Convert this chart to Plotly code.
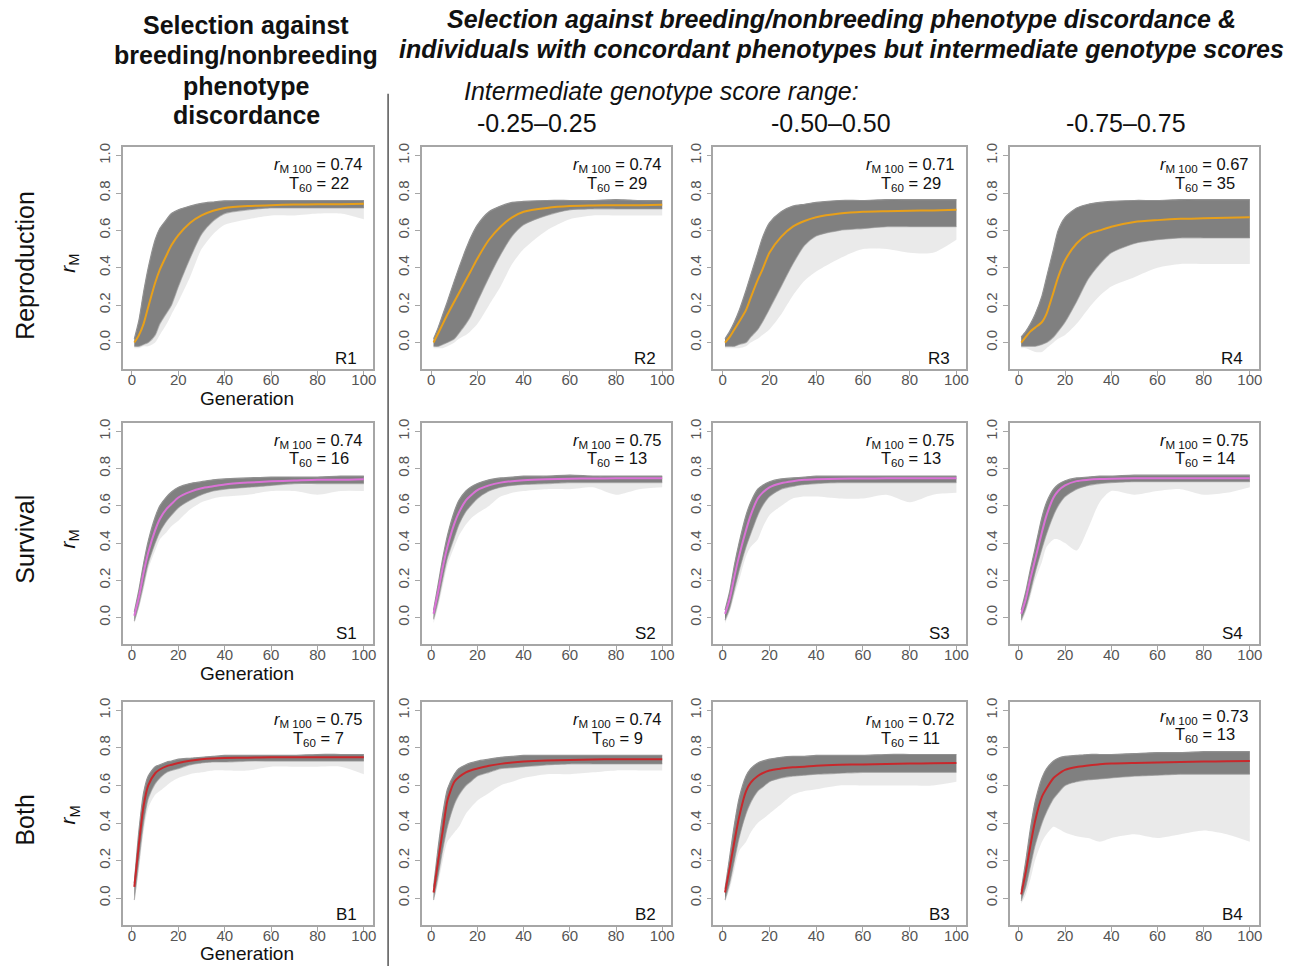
import plotly.graph_objects as go

W, H = 1289, 966

generations = [1, 3, 5, 7, 10, 12, 15, 17, 20, 25, 30, 35, 40, 50, 60, 70, 80, 90, 100]

# ---- Reproduction row ----
R1_mean = [0.0, 0.04, 0.10, 0.19, 0.32, 0.39, 0.47, 0.52, 0.575, 0.64, 0.68, 0.705, 0.72, 0.73, 0.735, 0.738, 0.74, 0.74, 0.742]
R1_hi = [0.02, 0.12, 0.27, 0.40, 0.55, 0.61, 0.66, 0.69, 0.71, 0.73, 0.745, 0.752, 0.758, 0.76, 0.76, 0.76, 0.76, 0.76, 0.76]
R1_lo = [-0.02, -0.02, -0.01, 0.0, 0.04, 0.10, 0.16, 0.20, 0.30, 0.45, 0.58, 0.65, 0.69, 0.71, 0.72, 0.72, 0.72, 0.72, 0.72]
R1_faint = [-0.03, -0.03, -0.02, -0.02, 0.0, 0.04, 0.10, 0.15, 0.22, 0.35, 0.50, 0.58, 0.63, 0.66, 0.68, 0.68, 0.69, 0.69, 0.66]

R2_mean = [0.0, 0.05, 0.10, 0.15, 0.22, 0.265, 0.335, 0.38, 0.45, 0.55, 0.62, 0.67, 0.70, 0.72, 0.73, 0.733, 0.735, 0.735, 0.737]
R2_hi = [0.02, 0.08, 0.15, 0.22, 0.33, 0.40, 0.50, 0.56, 0.63, 0.70, 0.73, 0.75, 0.755, 0.76, 0.76, 0.76, 0.765, 0.76, 0.76]
R2_lo = [-0.02, -0.02, -0.01, 0.0, 0.02, 0.05, 0.10, 0.14, 0.22, 0.35, 0.47, 0.57, 0.63, 0.68, 0.71, 0.715, 0.715, 0.715, 0.715]
R2_faint = [-0.03, -0.03, -0.03, -0.02, 0.0, 0.02, 0.04, 0.06, 0.10, 0.20, 0.30, 0.42, 0.50, 0.60, 0.66, 0.68, 0.68, 0.68, 0.68]

R3_mean = [0.0, 0.03, 0.07, 0.11, 0.175, 0.24, 0.335, 0.39, 0.48, 0.565, 0.62, 0.65, 0.67, 0.69, 0.70, 0.703, 0.705, 0.707, 0.71]
R3_hi = [0.02, 0.06, 0.11, 0.17, 0.28, 0.36, 0.48, 0.56, 0.64, 0.70, 0.73, 0.74, 0.75, 0.76, 0.76, 0.765, 0.765, 0.765, 0.765]
R3_lo = [-0.02, -0.02, -0.02, -0.01, 0.0, 0.03, 0.07, 0.11, 0.18, 0.30, 0.42, 0.52, 0.57, 0.60, 0.61, 0.62, 0.62, 0.62, 0.62]
R3_faint = [-0.03, -0.03, -0.03, -0.03, -0.02, 0.0, 0.02, 0.04, 0.07, 0.15, 0.25, 0.33, 0.38, 0.45, 0.50, 0.50, 0.48, 0.48, 0.55]

R4_mean = [0.0, 0.03, 0.06, 0.08, 0.11, 0.155, 0.27, 0.35, 0.44, 0.53, 0.58, 0.60, 0.62, 0.645, 0.655, 0.662, 0.665, 0.668, 0.67]
R4_hi = [0.03, 0.06, 0.10, 0.15, 0.25, 0.35, 0.50, 0.60, 0.67, 0.72, 0.74, 0.75, 0.755, 0.76, 0.76, 0.765, 0.765, 0.765, 0.765]
R4_lo = [-0.02, -0.02, -0.02, -0.02, -0.01, 0.0, 0.03, 0.06, 0.11, 0.22, 0.34, 0.42, 0.48, 0.53, 0.55, 0.56, 0.56, 0.56, 0.56]
R4_faint = [-0.03, -0.03, -0.04, -0.05, -0.05, -0.03, 0.0, 0.02, 0.04, 0.10, 0.18, 0.25, 0.30, 0.35, 0.40, 0.42, 0.42, 0.42, 0.42]

# ---- Survival row ----
S1_mean = [0.01, 0.11, 0.24, 0.35, 0.47, 0.53, 0.585, 0.61, 0.645, 0.675, 0.695, 0.705, 0.715, 0.725, 0.732, 0.736, 0.74, 0.74, 0.743]
S1_hi = [0.03, 0.15, 0.29, 0.41, 0.54, 0.60, 0.65, 0.675, 0.70, 0.72, 0.73, 0.74, 0.745, 0.75, 0.755, 0.755, 0.755, 0.76, 0.76]
S1_lo = [-0.02, 0.07, 0.18, 0.29, 0.40, 0.46, 0.52, 0.55, 0.59, 0.63, 0.66, 0.68, 0.69, 0.70, 0.71, 0.72, 0.72, 0.72, 0.72]
S1_faint = [-0.03, 0.05, 0.15, 0.26, 0.36, 0.42, 0.46, 0.49, 0.52, 0.58, 0.62, 0.64, 0.65, 0.66, 0.68, 0.68, 0.66, 0.68, 0.68]

S2_mean = [0.02, 0.14, 0.27, 0.38, 0.505, 0.565, 0.63, 0.655, 0.685, 0.71, 0.725, 0.733, 0.738, 0.743, 0.746, 0.747, 0.748, 0.748, 0.748]
S2_hi = [0.04, 0.18, 0.32, 0.44, 0.57, 0.63, 0.68, 0.70, 0.72, 0.74, 0.75, 0.755, 0.76, 0.76, 0.765, 0.76, 0.76, 0.76, 0.76]
S2_lo = [-0.01, 0.09, 0.21, 0.32, 0.43, 0.50, 0.57, 0.60, 0.64, 0.68, 0.70, 0.71, 0.715, 0.72, 0.725, 0.725, 0.725, 0.725, 0.725]
S2_faint = [-0.03, 0.06, 0.17, 0.28, 0.38, 0.44, 0.50, 0.53, 0.56, 0.60, 0.65, 0.67, 0.68, 0.69, 0.69, 0.70, 0.66, 0.69, 0.70]

S3_mean = [0.02, 0.10, 0.22, 0.33, 0.47, 0.55, 0.64, 0.67, 0.70, 0.722, 0.733, 0.74, 0.743, 0.746, 0.747, 0.748, 0.748, 0.748, 0.748]
S3_hi = [0.04, 0.14, 0.28, 0.40, 0.55, 0.62, 0.69, 0.71, 0.73, 0.745, 0.75, 0.755, 0.76, 0.76, 0.76, 0.76, 0.76, 0.76, 0.76]
S3_lo = [-0.015, 0.05, 0.15, 0.25, 0.38, 0.45, 0.55, 0.60, 0.65, 0.69, 0.705, 0.715, 0.72, 0.725, 0.725, 0.725, 0.725, 0.725, 0.725]
S3_faint = [-0.03, 0.03, 0.12, 0.20, 0.33, 0.38, 0.42, 0.48, 0.55, 0.60, 0.64, 0.65, 0.65, 0.64, 0.64, 0.66, 0.62, 0.66, 0.67]

S4_mean = [0.02, 0.10, 0.21, 0.31, 0.46, 0.55, 0.645, 0.68, 0.71, 0.733, 0.74, 0.744, 0.746, 0.748, 0.748, 0.748, 0.748, 0.748, 0.748]
S4_hi = [0.04, 0.14, 0.26, 0.37, 0.54, 0.62, 0.69, 0.715, 0.735, 0.75, 0.755, 0.76, 0.76, 0.765, 0.765, 0.765, 0.765, 0.765, 0.765]
S4_lo = [-0.015, 0.05, 0.14, 0.24, 0.37, 0.45, 0.55, 0.60, 0.65, 0.69, 0.71, 0.72, 0.725, 0.73, 0.73, 0.73, 0.73, 0.73, 0.73]
S4_faint = [-0.03, 0.03, 0.11, 0.20, 0.30, 0.38, 0.42, 0.42, 0.40, 0.36, 0.48, 0.62, 0.68, 0.66, 0.68, 0.69, 0.66, 0.67, 0.70]

# ---- Both row ----
B1_mean = [0.06, 0.29, 0.49, 0.60, 0.665, 0.685, 0.703, 0.71, 0.72, 0.732, 0.74, 0.744, 0.746, 0.748, 0.75, 0.75, 0.75, 0.75, 0.75]
B1_hi = [0.08, 0.36, 0.56, 0.65, 0.70, 0.71, 0.725, 0.73, 0.74, 0.745, 0.75, 0.755, 0.76, 0.76, 0.76, 0.76, 0.765, 0.765, 0.765]
B1_lo = [-0.01, 0.20, 0.40, 0.53, 0.61, 0.64, 0.67, 0.68, 0.69, 0.71, 0.72, 0.725, 0.725, 0.73, 0.73, 0.73, 0.73, 0.73, 0.73]
B1_faint = [-0.02, 0.15, 0.35, 0.48, 0.55, 0.57, 0.60, 0.62, 0.64, 0.66, 0.67, 0.68, 0.68, 0.68, 0.70, 0.70, 0.70, 0.70, 0.66]

B2_mean = [0.03, 0.20, 0.36, 0.52, 0.62, 0.645, 0.67, 0.68, 0.69, 0.705, 0.715, 0.722, 0.727, 0.733, 0.736, 0.738, 0.74, 0.74, 0.74]
B2_hi = [0.06, 0.27, 0.45, 0.58, 0.66, 0.69, 0.71, 0.72, 0.73, 0.74, 0.75, 0.755, 0.76, 0.76, 0.76, 0.76, 0.76, 0.76, 0.76]
B2_lo = [-0.01, 0.12, 0.26, 0.38, 0.50, 0.55, 0.60, 0.62, 0.65, 0.67, 0.69, 0.695, 0.70, 0.71, 0.715, 0.715, 0.715, 0.715, 0.715]
B2_faint = [-0.02, 0.08, 0.20, 0.30, 0.35, 0.38, 0.45, 0.48, 0.52, 0.56, 0.60, 0.62, 0.64, 0.66, 0.66, 0.67, 0.68, 0.68, 0.68]

B3_mean = [0.03, 0.16, 0.30, 0.43, 0.57, 0.615, 0.65, 0.665, 0.68, 0.69, 0.697, 0.70, 0.705, 0.71, 0.712, 0.715, 0.717, 0.718, 0.72]
B3_hi = [0.05, 0.22, 0.39, 0.53, 0.65, 0.69, 0.72, 0.73, 0.74, 0.75, 0.755, 0.755, 0.76, 0.76, 0.76, 0.765, 0.765, 0.765, 0.765]
B3_lo = [-0.01, 0.08, 0.20, 0.32, 0.45, 0.51, 0.57, 0.59, 0.62, 0.64, 0.65, 0.655, 0.66, 0.665, 0.67, 0.67, 0.67, 0.67, 0.67]
B3_faint = [-0.02, 0.05, 0.15, 0.25, 0.30, 0.35, 0.40, 0.42, 0.45, 0.50, 0.55, 0.57, 0.58, 0.60, 0.60, 0.60, 0.60, 0.60, 0.62]

B4_mean = [0.02, 0.14, 0.28, 0.41, 0.54, 0.585, 0.64, 0.66, 0.683, 0.698, 0.706, 0.713, 0.717, 0.72, 0.722, 0.725, 0.727, 0.729, 0.73]
B4_hi = [0.04, 0.20, 0.37, 0.51, 0.64, 0.69, 0.73, 0.745, 0.755, 0.76, 0.765, 0.765, 0.765, 0.77, 0.775, 0.775, 0.78, 0.78, 0.78]
B4_lo = [-0.015, 0.06, 0.17, 0.28, 0.40, 0.46, 0.53, 0.56, 0.60, 0.62, 0.63, 0.635, 0.64, 0.65, 0.655, 0.66, 0.66, 0.66, 0.66]
B4_faint = [-0.03, 0.02, 0.10, 0.20, 0.30, 0.34, 0.38, 0.37, 0.35, 0.33, 0.32, 0.30, 0.32, 0.34, 0.32, 0.34, 0.36, 0.34, 0.30]

panel_ids = ["R1", "R2", "R3", "R4", "S1", "S2", "S3", "S4", "B1", "B2", "B3", "B4"]
panel_means = [R1_mean, R2_mean, R3_mean, R4_mean, S1_mean, S2_mean, S3_mean, S4_mean, B1_mean, B2_mean, B3_mean, B4_mean]
panel_hi = [R1_hi, R2_hi, R3_hi, R4_hi, S1_hi, S2_hi, S3_hi, S4_hi, B1_hi, B2_hi, B3_hi, B4_hi]
panel_lo = [R1_lo, R2_lo, R3_lo, R4_lo, S1_lo, S2_lo, S3_lo, S4_lo, B1_lo, B2_lo, B3_lo, B4_lo]
panel_faint = [R1_faint, R2_faint, R3_faint, R4_faint, S1_faint, S2_faint, S3_faint, S4_faint, B1_faint, B2_faint, B3_faint, B4_faint]
rm100_values = ["0.74", "0.74", "0.71", "0.67", "0.74", "0.75", "0.75", "0.75", "0.75", "0.74", "0.72", "0.73"]
t60_values = ["22", "29", "29", "35", "16", "13", "13", "14", "7", "9", "11", "13"]

row_names = ["Reproduction", "Survival", "Both"]
range_labels = ["-0.25\u20130.25", "-0.50\u20130.50", "-0.75\u20130.75"]
x_ticks = [0, 20, 40, 60, 80, 100]
y_ticks = [0.0, 0.2, 0.4, 0.6, 0.8, 1.0]
y_ticktext = ["0.0", "0.2", "0.4", "0.6", "0.8", "1.0"]
row_mean_colors = ["#E8A01A", "#DA72D6", "#C8282C"]

# layout geometry (pixels)
col_px = [(123, 374), (423, 673), (715, 968), (1012, 1262)]
row_px = [(144, 367), (421, 643), (701, 925)]

FONT = "Liberation Sans, Arial, Helvetica, sans-serif"
BOX = "#a6a6a6"
TICKFONT = "#555555"

fig = go.Figure()
layout = dict(
    width=W, height=H,
    margin=dict(l=0, r=0, t=0, b=0),
    paper_bgcolor="white", plot_bgcolor="white",
    showlegend=False,
    font=dict(family=FONT, color="#111111"),
)
annotations = []

for i, pid in enumerate(panel_ids):
    r, c = divmod(i, 4)
    n = i + 1
    xa = "x" if n == 1 else f"x{n}"
    ya = "y" if n == 1 else f"y{n}"
    common = dict(xaxis=xa, yaxis=ya, hoverinfo="skip", showlegend=False)
    spl = dict(shape="spline", smoothing=0.7)
    # sparse / faint replicate lines envelope
    fig.add_trace(go.Scatter(x=generations, y=panel_faint[i], mode="lines",
                             line=dict(width=0, **spl), **common))
    fig.add_trace(go.Scatter(x=generations, y=panel_hi[i], mode="lines", fill="tonexty",
                             fillcolor="rgba(150,150,150,0.20)",
                             line=dict(width=0, **spl), **common))
    # dense core of replicate lines
    fig.add_trace(go.Scatter(x=generations, y=panel_lo[i], mode="lines",
                             line=dict(width=1.2, color="rgba(150,150,150,0.6)", **spl), **common))
    fig.add_trace(go.Scatter(x=generations, y=panel_hi[i], mode="lines", fill="tonexty",
                             fillcolor="rgb(128,128,128)",
                             line=dict(width=1.2, color="rgb(145,145,145)", **spl), **common))
    # mean line
    fig.add_trace(go.Scatter(x=generations, y=panel_means[i], mode="lines",
                             line=dict(width=2, color=row_mean_colors[r], **spl), **common))

    x0, x1 = col_px[c]
    y0, y1 = row_px[r]
    axis_common = dict(showline=True, linecolor=BOX, linewidth=1.5, mirror=True,
                       ticks="outside", ticklen=5, tickwidth=1.2, tickcolor=BOX,
                       showgrid=False, zeroline=False,
                       tickfont=dict(family=FONT, size=15, color=TICKFONT))
    layout["xaxis" if n == 1 else f"xaxis{n}"] = dict(
        domain=[x0 / W, x1 / W], anchor=ya, range=[-4, 104],
        tickvals=x_ticks, ticklabelstandoff=-9, **axis_common)
    layout["yaxis" if n == 1 else f"yaxis{n}"] = dict(
        domain=[1 - y1 / H, 1 - y0 / H], anchor=xa, range=[-0.144, 1.044],
        tickvals=y_ticks, ticktext=y_ticktext, tickangle=-90, **axis_common)

    ytop = 0.965 if pid == "B4" else 0.948
    annotations.append(dict(xref=xa, yref=ya, x=80.5, y=ytop, showarrow=False,
                            xanchor="center", yanchor="middle",
                            text=f"<i>r</i><sub>M 100</sub> = {rm100_values[i]}",
                            font=dict(family=FONT, size=16.5, color="#111111")))
    annotations.append(dict(xref=xa, yref=ya, x=80.5, y=ytop - 0.098, showarrow=False,
                            xanchor="center", yanchor="middle",
                            text=f"T<sub>60</sub> = {t60_values[i]}",
                            font=dict(family=FONT, size=16.5, color="#111111")))
    annotations.append(dict(xref=xa, yref=ya, x=98, y=-0.085, showarrow=False,
                            xanchor="right", yanchor="middle", text=pid,
                            font=dict(family=FONT, size=17, color="#111111")))


def pa(x, y, text, size, **kw):
    d = dict(xref="paper", yref="paper", x=x / W, y=1 - y / H, text=text, showarrow=False,
             xanchor="center", yanchor="middle", font=dict(family=FONT, size=size, color="#111111"))
    d.update(kw)
    return d


gen_y = [396, 672, 953]
rm_y = [260, 537, 814]
rowlab_y = [262, 537, 819]
for r in range(3):
    annotations.append(pa(248, gen_y[r], "Generation", 19))
    annotations.append(pa(69, rm_y[r], "<i>r</i><sub>M</sub>", 21, textangle=-90))
    annotations.append(pa(25, rowlab_y[r], row_names[r], 25, textangle=-90))

left_header = ["Selection against", "breeding/nonbreeding", "phenotype", "discordance"]
left_header_y = [21, 51, 82, 111]
for txt, yy in zip(left_header, left_header_y):
    annotations.append(pa(247, yy, f"<b>{txt}</b>", 25))

right_header = ["Selection against breeding/nonbreeding phenotype discordance &",
                "individuals with concordant phenotypes but intermediate genotype scores"]
right_header_y = [15, 45]
for txt, yy in zip(right_header, right_header_y):
    annotations.append(pa(843, yy, f"<b><i>{txt}</i></b>", 25))

annotations.append(pa(663, 87, "<i>Intermediate genotype score range:</i>", 25))
range_x = [538, 833, 1129]
for txt, xx in zip(range_labels, range_x):
    annotations.append(pa(xx, 119, txt, 25))

layout["annotations"] = annotations
layout["shapes"] = [dict(type="line", xref="paper", yref="paper",
                         x0=389 / W, x1=389 / W, y0=0, y1=1 - 90 / H,
                         line=dict(color="#555555", width=1.5))]

fig.update_layout(**layout)
fig.write_html("out.html")
